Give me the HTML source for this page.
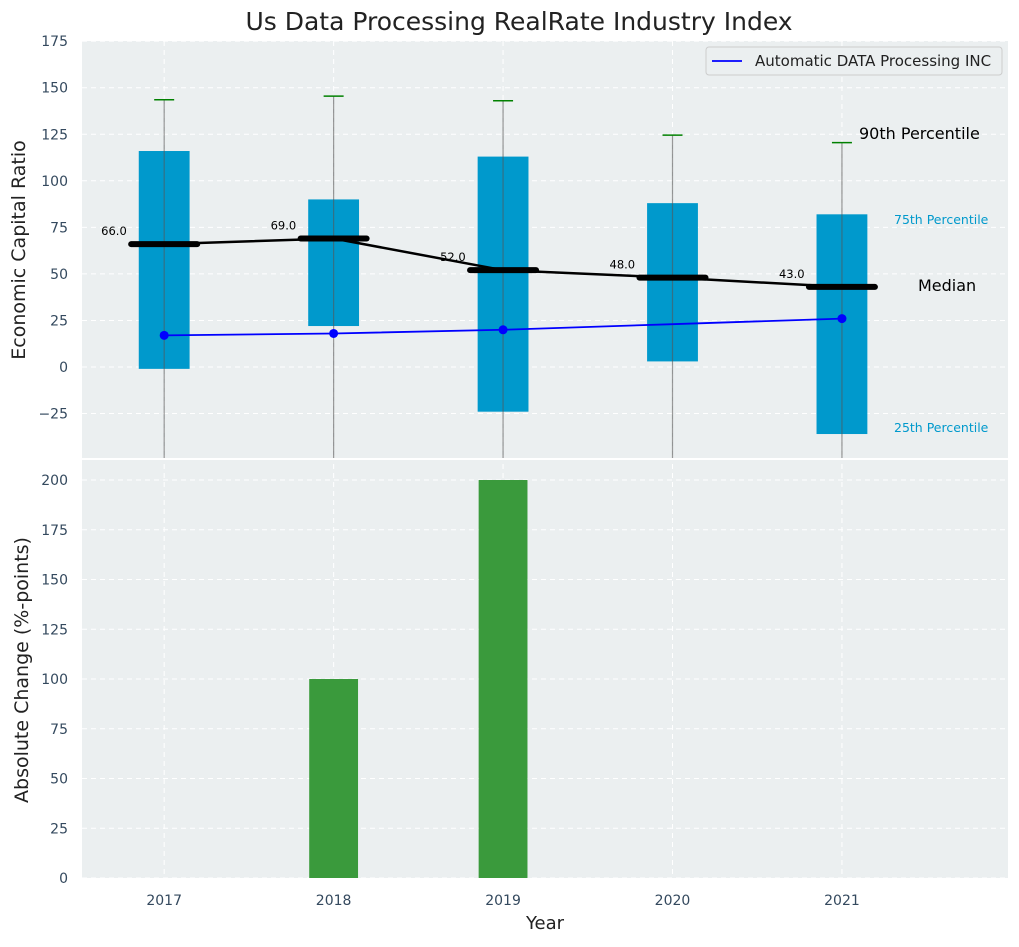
<!DOCTYPE html>
<html><head><meta charset="utf-8"><style>
body{margin:0;background:#fff;font-family:"Liberation Sans","DejaVu Sans",sans-serif}
svg text{font-family:"DejaVu Sans","Liberation Sans",sans-serif}
</style></head><body>
<svg id="c" width="1019" height="942" xmlns="http://www.w3.org/2000/svg"></svg>
<script>
const years=[2017,2018,2019,2020,2021];
const q75=[116,90,113,88,82];
const q25=[-1,22,-24,3,-36];
const p90=[143.5,145.5,143,124.5,120.5];
const medians=[66,69,52,48,43];
const company=[17,18,20,23,26];
const companyMarker=[true,true,true,false,true];
const absChange=[0,100,200,0,0];
const topTicks=[-25,0,25,50,75,100,125,150,175];
const botTicks=[0,25,50,75,100,125,150,175,200];

const NS="http://www.w3.org/2000/svg";
const svg=document.getElementById('c');
function el(t,a,p){const e=document.createElementNS(NS,t);for(const k in a)e.setAttribute(k,a[k]);(p||svg).appendChild(e);return e;}
const X0=82,X1=1008;
const x=v=>X0+(v-2016.515)/(2021.98-2016.515)*(X1-X0);
const yT=v=>367-v*1.862;
const yB=v=>878-v*1.99;

let t=el('text',{x:519,y:30,'text-anchor':'middle','font-size':25,fill:'#222'});t.textContent='Us Data Processing RealRate Industry Index';



let r=el('rect',{x:X0,y:41,width:X1-X0,height:417,fill:'#ebeff0'});


r=el('rect',{x:X0,y:460,width:X1-X0,height:418,fill:'#ebeff0'});



topTicks.forEach(v=>{el('line',{x1:X0,x2:X1,y1:yT(v),y2:yT(v),stroke:'#fff','stroke-dasharray':'5,4','stroke-width':1});
 const l=el('text',{x:68,y:yT(v)+5,'text-anchor':'end','font-size':14,fill:'#34495e'});l.textContent=v<0?'\u2212'+(-v):v;
 
 });
botTicks.forEach(v=>{el('line',{x1:X0,x2:X1,y1:yB(v),y2:yB(v),stroke:'#fff','stroke-dasharray':'5,4','stroke-width':1});
 const l=el('text',{x:68,y:yB(v)+5,'text-anchor':'end','font-size':14,fill:'#34495e'});l.textContent=v;
 
 });
years.forEach(yr=>{el('line',{x1:x(yr),x2:x(yr),y1:41,y2:878,stroke:'#fff','stroke-dasharray':'5,4'});
 const l=el('text',{x:x(yr),y:905,'text-anchor':'middle','font-size':14,fill:'#34495e'});l.textContent=yr;
 
 });

const hw=(x(2017.15)-x(2017));
years.forEach((yr,i)=>{
 const cx=x(yr);
 const b=el('rect',{x:cx-hw,y:yT(q75[i]),width:2*hw,height:yT(q25[i])-yT(q75[i]),fill:'#0099cc'});
 
 
 const w=el('line',{x1:cx,x2:cx,y1:yT(p90[i]),y2:458,stroke:'#555','stroke-opacity':0.6,'stroke-width':1.2});
 
 
 const c=el('line',{x1:cx-10,x2:cx+10,y1:yT(p90[i]),y2:yT(p90[i]),stroke:'green','stroke-width':1.5});
 
 
});
let pts=years.map((yr,i)=>x(yr)+','+yT(medians[i])).join(' ');
let pl=el('polyline',{points:pts,fill:'none',stroke:'#000','stroke-width':2.5});


years.forEach((yr,i)=>{
 const s=el('line',{x1:x(yr)-33,x2:x(yr)+33,y1:yT(medians[i]),y2:yT(medians[i]),stroke:'#000','stroke-width':6,'stroke-linecap':'round'});
 
 
 const l=el('text',{x:x(yr)-63,y:yT(medians[i])-9,'font-size':11.5,fill:'#000'});l.textContent=medians[i].toFixed(1);
 
 
});
pts=years.map((yr,i)=>x(yr)+','+yT(company[i])).join(' ');
pl=el('polyline',{points:pts,fill:'none',stroke:'#0000ff','stroke-width':1.8});


years.forEach((yr,i)=>{if(!companyMarker[i])return;
 const d=el('circle',{cx:x(yr),cy:yT(company[i]),r:4.5,fill:'#0000ff'});
 
 });

[['90th Percentile',859,139,16,'#000'],['75th Percentile',894,224,12.5,'#0099cc'],['Median',918,291,16,'#000'],['25th Percentile',894,432,12.5,'#0099cc']].forEach(a=>{
 const l=el('text',{x:a[1],y:a[2],'font-size':a[3],fill:a[4]});l.textContent=a[0];
 
 });

let g=el('g',{});


el('rect',{x:706,y:47,width:296,height:28,rx:3,fill:'#ebeff0',stroke:'#ccc'},g);
el('line',{x1:712,x2:742,y1:61,y2:61,stroke:'#0000ff','stroke-width':1.8},g);
t=el('text',{x:755,y:66,'font-size':15,fill:'#222'},g);t.textContent='Automatic DATA Processing INC';

years.forEach((yr,i)=>{if(!absChange[i])return;
 const b=el('rect',{x:x(yr)-hw+1,y:yB(absChange[i]),width:2*hw-2,height:yB(0)-yB(absChange[i]),fill:'#3a9a3c'});
 
 });

t=el('text',{x:0,y:0,'font-size':19,fill:'#222','text-anchor':'middle',transform:'translate(25,250) rotate(-90)'});t.textContent='Economic Capital Ratio';


t=el('text',{x:0,y:0,'font-size':19,fill:'#222','text-anchor':'middle',transform:'translate(28,670) rotate(-90)'});t.textContent='Absolute Change (%-points)';


t=el('text',{x:545,y:929,'font-size':18,fill:'#222','text-anchor':'middle'});t.textContent='Year';


</script>
</body></html>
